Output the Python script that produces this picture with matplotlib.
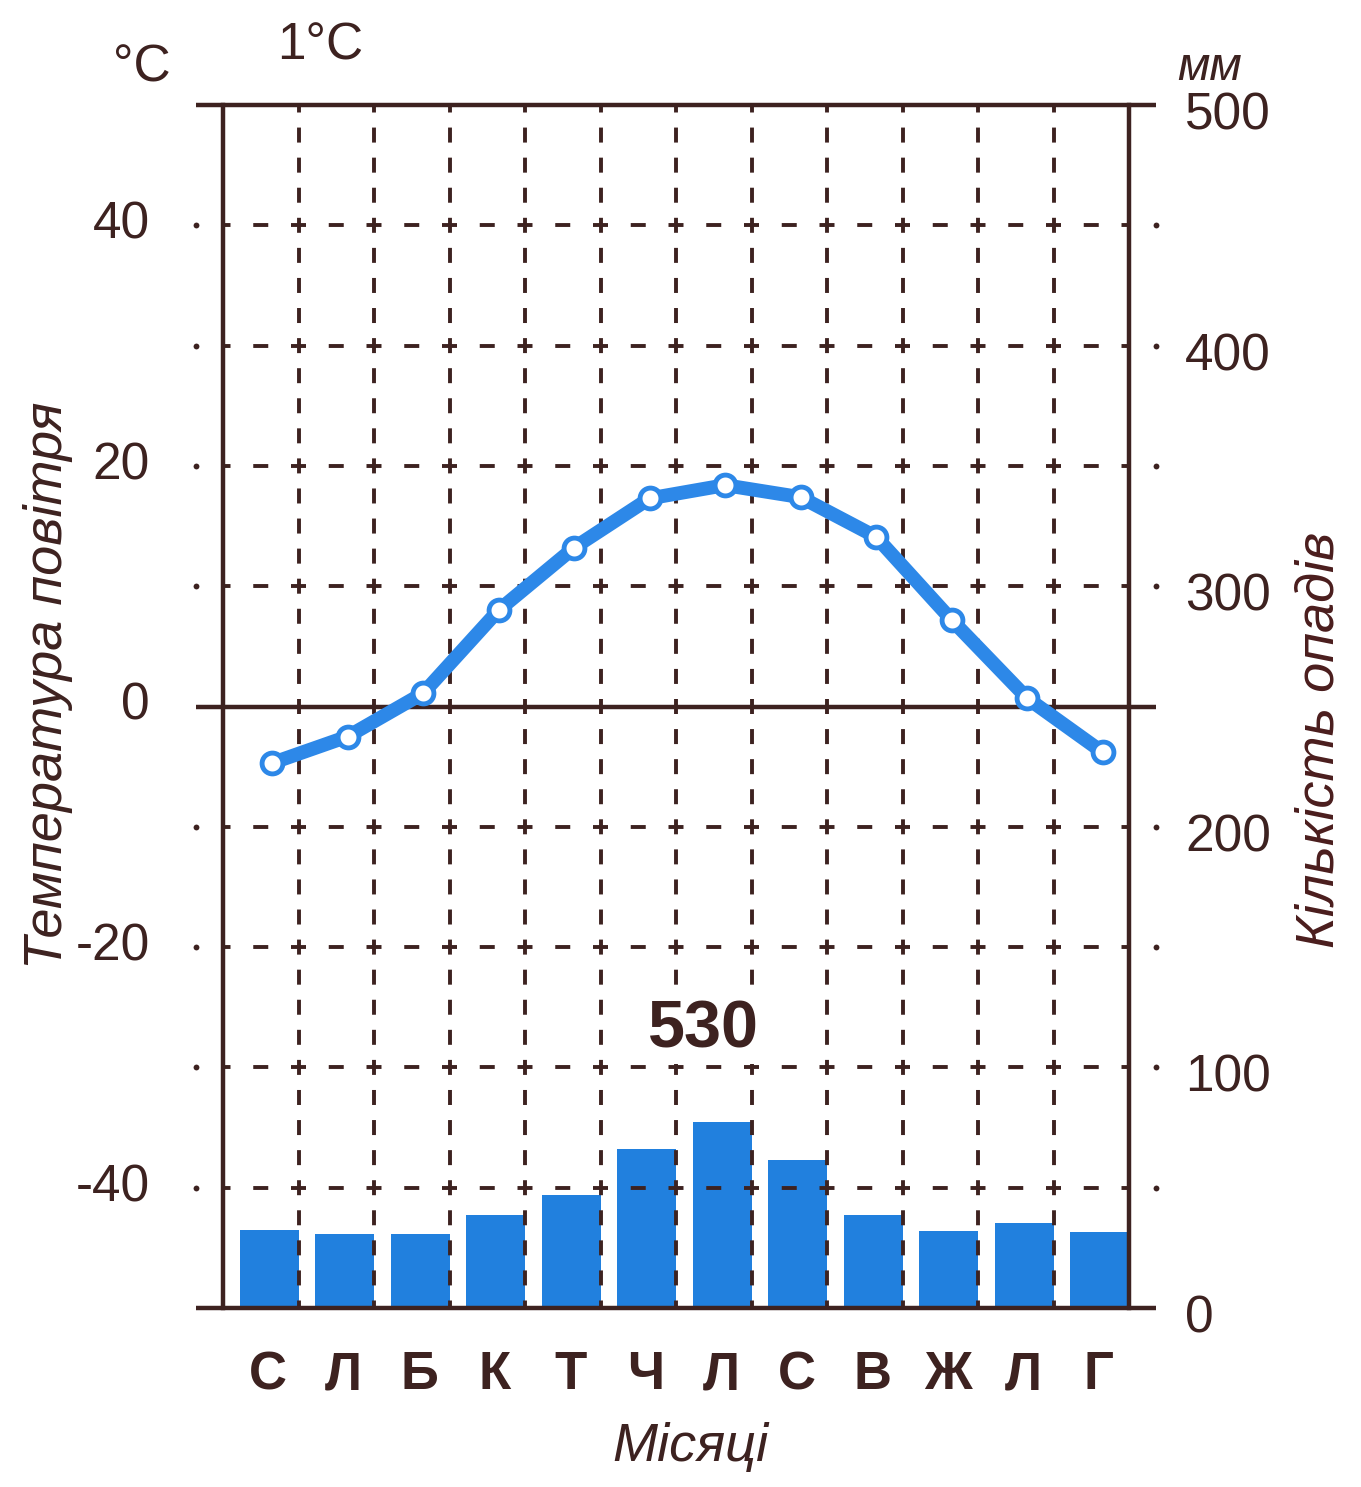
import numpy as np
import matplotlib.pyplot as plt
from matplotlib.transforms import ScaledTranslation

# ── data ──────────────────────────────────────────────────────────────────────
months = ['С', 'Л', 'Б', 'К', 'Т', 'Ч', 'Л', 'С', 'В', 'Ж', 'Л', 'Г']
temp_c = [-4.7, -2.5, 1.1, 8.0, 13.2, 17.3, 18.4, 17.4, 14.1, 7.2, 0.7, -3.8]
precip_mm = [32.4, 30.8, 30.8, 38.7, 47.0, 66.0, 77.3, 61.5, 38.7, 32.0, 35.3, 31.6]
annual_precip = '530'
temp_note = '1°C'
t_ticks = [-40, -20, 0, 20, 40]
t_grid = [-40, -30, -20, -10, 10, 20, 30, 40]
t_solid = [-50, 0, 50]
p_ticks = [0, 100, 200, 300, 400, 500]

INK = '#3d2220'
RED_INK = '#4a1d1d'
BLUE_LINE = '#2d88e8'
BLUE_BAR = '#2180de'

W, H = 1361, 1487
PT = 72 / 100          # points per pixel at dpi=100
plt.rcParams['font.family'] = ['Liberation Sans', 'DejaVu Sans']
plt.rcParams['lines.scale_dashes'] = False

fig = plt.figure(figsize=(W / 100, H / 100), dpi=100)
fig.patch.set_facecolor('white')

# plot box in pixels
L, R, T, B = 223, 1129, 105, 1308
col_px = (R - L) / 12
ax = fig.add_axes([L / W, 1 - B / H, (R - L) / W, (B - T) / H])
ax2 = ax.twinx()
ax.set_zorder(ax2.get_zorder() + 1)
ax.patch.set_visible(False)

for a in (ax, ax2):
    for s in a.spines.values():
        s.set_visible(False)
    a.set_xticks([])
    a.set_yticks([])
ax.set_xlim(0, 12)
ax.set_ylim(-50, 50)
ax2.set_ylim(0, 500)

x = np.arange(12)

# ── precipitation bars (right axis) ───────────────────────────────────────────
ax2.bar(x + 0.22, precip_mm, width=0.78, align='edge', color=BLUE_BAR,
        linewidth=0, zorder=2)

# ── dashed grid ───────────────────────────────────────────────────────────────
xl = -27 / col_px
xr = 12 + 27 / col_px
h_per = col_px / 2
h_dash = (7.5 * PT, (15 * PT, (h_per - 15) * PT))
v_per = (B - T) / 40
v_dash = (7.5 * PT, (15 * PT, (v_per - 15) * PT))

for v in t_grid:
    ax.plot([0, 12], [v, v], color=INK, lw=2.8, ls=h_dash, clip_on=False, zorder=2)
    ax.plot([xl, xr], [v, v], color=INK, ls='none', marker='o', ms=4.2,
            mew=0, clip_on=False, zorder=2)
for i in range(1, 12):
    ax.plot([i, i], [50, -50], color=INK, lw=2.8, ls=v_dash, zorder=2)

# solid frame lines
for v in t_solid:
    ax.plot([xl, xr], [v, v], color=INK, lw=3.2, clip_on=False,
            solid_capstyle='butt', zorder=3)
for xv in (0, 12):
    ax.plot([xv, xv], [-50, 50], color=INK, lw=3.2, clip_on=False, zorder=3)

# ── temperature curve ─────────────────────────────────────────────────────────
ax.plot(x + 0.65, temp_c, color=BLUE_LINE, lw=10, marker='o', ms=15,
        mfc='white', mec=BLUE_LINE, mew=3.5, solid_joinstyle='round',
        solid_capstyle='round', zorder=5, clip_on=False)

# ── tick labels ───────────────────────────────────────────────────────────────
ty = ax.get_yaxis_transform()
for v in t_ticks:
    ax.text((150 - L) / (R - L), v, f'{v}', transform=ty, ha='right',
            va='center', fontsize=37, color=INK)

ty2 = ax2.get_yaxis_transform() + ScaledTranslation(0, -11 / 100, fig.dpi_scale_trans)
for v in p_ticks:
    ax2.text((1185 - L) / (R - L), v, f'{v}', transform=ty2, ha='left',
             va='center', fontsize=37, color=INK)

tx = ax.get_xaxis_transform()
for i, m in enumerate(months):
    ax.text(i + 0.6, (B - 1375) / (B - T), m, transform=tx, ha='center',
            va='center', fontsize=38, fontweight='bold', color=INK)


def ftext(px, py, s, **kw):
    return fig.text(px / W, 1 - py / H, s, ha='center', va='center',
                    color=INK, **kw)


ftext(142, 68, '°C', fontsize=37)
ftext(320, 46, temp_note, fontsize=37)
ftext(1210, 68, 'мм', fontsize=34, style='italic')
t530 = ftext(703, 1030, annual_precip, fontsize=48, fontweight='bold',
             zorder=10)
t530.set_bbox(dict(facecolor='white', edgecolor='none', pad=2))
ftext(690, 1447, 'Місяці', fontsize=39, style='italic')
ftext(48, 685, 'Температура повітря', fontsize=39, style='italic', rotation=90)
fig.text(1320 / W, 1 - 740 / H, 'Кількість опадів', ha='center', va='center',
         color=RED_INK, fontsize=39, style='italic', rotation=90)

fig.savefig('out.png', dpi=100, facecolor='white')
